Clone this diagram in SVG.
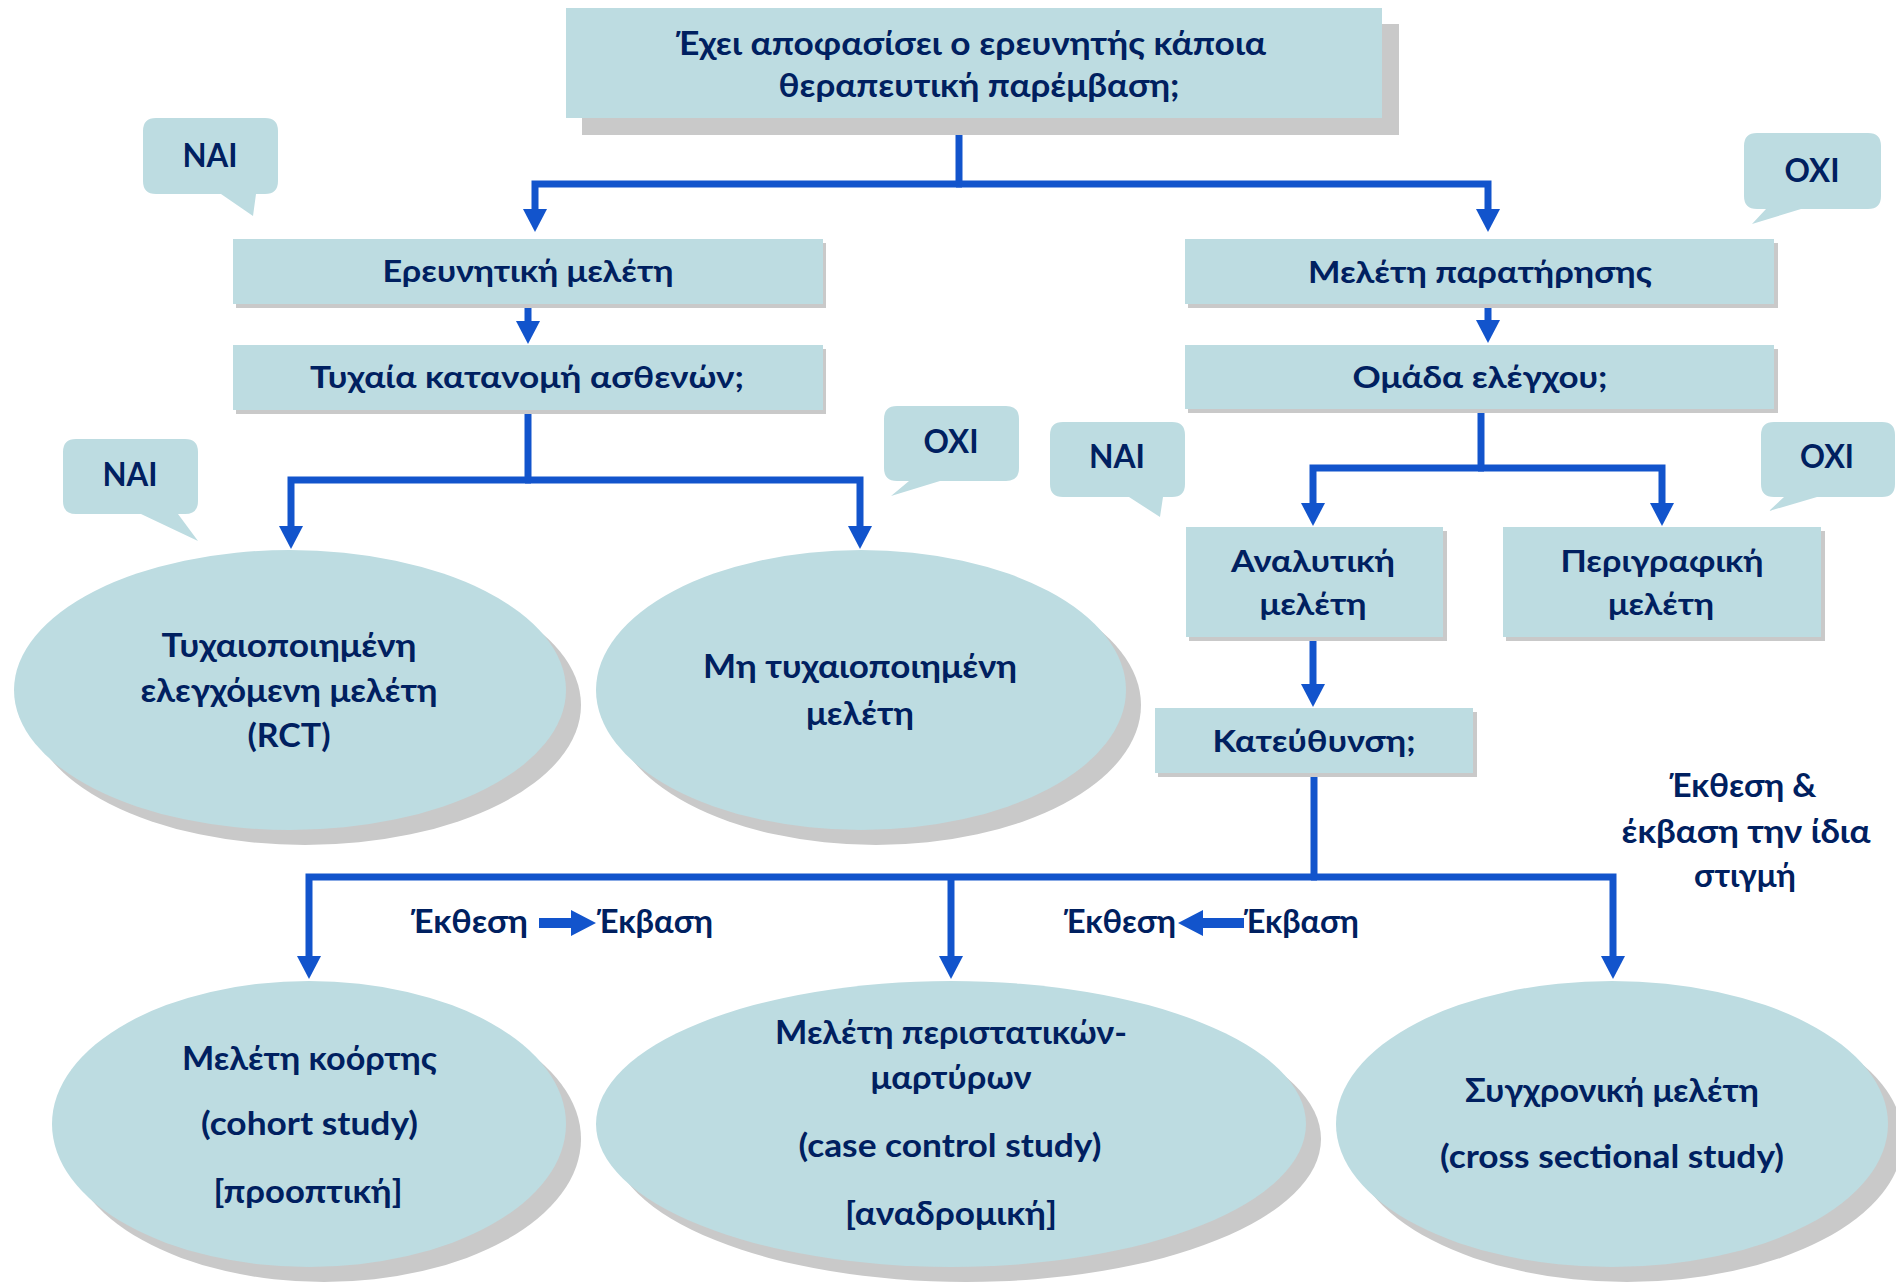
<svg xmlns="http://www.w3.org/2000/svg" width="1896" height="1283" viewBox="0 0 1896 1283">
  <style>
    .box { fill: #bddce1; }
    .shade { fill: #c9c9c9; }
    .bubble { fill: #bddce1; }
    .t { font-family: Lato, "Open Sans", "Noto Sans", sans-serif; font-weight: 700; fill: #002060; text-anchor: middle; }
    .s30 { font-size: 30px; }
    .s32 { font-size: 32px; }
    .wire { stroke: #1254cc; stroke-width: 7; fill: none; stroke-linejoin: miter; }
    .blk { fill: #1254cc; }
  </style>
  <defs>
    <marker id="head" markerUnits="userSpaceOnUse" markerWidth="26" markerHeight="26" refX="1" refY="12" orient="auto" overflow="visible">
      <path d="M0,0 L23,12 L0,24 Z" fill="#1254cc"/>
    </marker>
  </defs>

  <rect width="1896" height="1283" fill="#ffffff"/>

  <!-- connectors -->
  <g id="connectors">
    <path class="wire" d="M959,118 V184"/>
    <path class="wire" d="M962,184 H535 V210" marker-end="url(#head)"/>
    <path class="wire" d="M956,184 H1488 V210" marker-end="url(#head)"/>
    <path class="wire" d="M528,305 V322" marker-end="url(#head)"/>
    <path class="wire" d="M1488,305 V321" marker-end="url(#head)"/>
    <path class="wire" d="M528,410 V480"/>
    <path class="wire" d="M531,480 H291 V527" marker-end="url(#head)"/>
    <path class="wire" d="M525,480 H860 V527" marker-end="url(#head)"/>
    <path class="wire" d="M1481,409 V468"/>
    <path class="wire" d="M1484,468 H1313 V504" marker-end="url(#head)"/>
    <path class="wire" d="M1478,468 H1662 V504" marker-end="url(#head)"/>
    <path class="wire" d="M1313,638 V685" marker-end="url(#head)"/>
    <path class="wire" d="M1314,773 V877"/>
    <path class="wire" d="M1317,877 H309 V957" marker-end="url(#head)"/>
    <path class="wire" d="M1311,877 H1613 V957" marker-end="url(#head)"/>
    <path class="wire" d="M951,877 V957" marker-end="url(#head)"/>
  </g>

  <!-- question: therapeutic intervention -->
  <g id="n-intervention">
    <rect class="shade" x="582" y="24" width="817" height="111"/>
    <rect class="box" x="566" y="8" width="816" height="110"/>
    <text class="t s32" x="971" y="55" textLength="590" lengthAdjust="spacingAndGlyphs">Έχει αποφασίσει ο ερευνητής κάποια</text>
    <text class="t s32" x="979" y="97" textLength="401" lengthAdjust="spacingAndGlyphs">θεραπευτική παρέμβαση;</text>
  </g>

  <g id="b-yes-1">
    <path class="bubble" d="M156,118 H265 Q278,118 278,131 V181 Q278,194 265,194 H256 L253,216 L221,194 H156 Q143,194 143,181 V131 Q143,118 156,118 Z"/>
    <text class="t s32" x="210" y="167" textLength="55" lengthAdjust="spacingAndGlyphs">ΝΑΙ</text>
  </g>

  <g id="b-no-1">
    <path class="bubble" d="M1757,133 H1868 Q1881,133 1881,146 V196 Q1881,209 1868,209 H1801 L1752,224 L1766,209 H1757 Q1744,209 1744,196 V146 Q1744,133 1757,133 Z"/>
    <text class="t s32" x="1812" y="182" textLength="55" lengthAdjust="spacingAndGlyphs">ΟΧΙ</text>
  </g>

  <g id="n-experimental">
    <rect class="shade" x="236" y="243" width="590" height="65"/>
    <rect class="box" x="233" y="239" width="590" height="65"/>
    <text class="t s30" x="528" y="282" textLength="291" lengthAdjust="spacingAndGlyphs">Ερευνητική μελέτη</text>
  </g>

  <g id="n-randomised-q">
    <rect class="shade" x="236" y="349" width="590" height="65"/>
    <rect class="box" x="233" y="345" width="590" height="65"/>
    <text class="t s30" x="527" y="388" textLength="434" lengthAdjust="spacingAndGlyphs">Τυχαία κατανομή ασθενών;</text>
  </g>

  <g id="n-observational">
    <rect class="shade" x="1188" y="243" width="590" height="65"/>
    <rect class="box" x="1185" y="239" width="589" height="65"/>
    <text class="t s30" x="1480" y="283" textLength="344" lengthAdjust="spacingAndGlyphs">Μελέτη παρατήρησης</text>
  </g>

  <g id="n-control-q">
    <rect class="shade" x="1188" y="349" width="590" height="64"/>
    <rect class="box" x="1185" y="345" width="589" height="64"/>
    <text class="t s30" x="1480" y="388" textLength="255" lengthAdjust="spacingAndGlyphs">Ομάδα ελέγχου;</text>
  </g>

  <g id="b-yes-2">
    <path class="bubble" d="M76,439 H185 Q198,439 198,452 V501 Q198,514 185,514 H178 L198,541 L141,514 H76 Q63,514 63,501 V452 Q63,439 76,439 Z"/>
    <text class="t s32" x="130" y="486" textLength="55" lengthAdjust="spacingAndGlyphs">ΝΑΙ</text>
  </g>

  <g id="b-no-2">
    <path class="bubble" d="M897,406 H1006 Q1019,406 1019,419 V468 Q1019,481 1006,481 H940 L891,496 L909,481 H897 Q884,481 884,468 V419 Q884,406 897,406 Z"/>
    <text class="t s32" x="951" y="453" textLength="55" lengthAdjust="spacingAndGlyphs">ΟΧΙ</text>
  </g>

  <g id="b-yes-3">
    <path class="bubble" d="M1063,422 H1172 Q1185,422 1185,435 V484 Q1185,497 1172,497 H1163 L1160,517 L1129,497 H1063 Q1050,497 1050,484 V435 Q1050,422 1063,422 Z"/>
    <text class="t s32" x="1117" y="468" textLength="56" lengthAdjust="spacingAndGlyphs">ΝΑΙ</text>
  </g>

  <g id="b-no-3">
    <path class="bubble" d="M1774,422 H1882 Q1895,422 1895,435 V484 Q1895,497 1882,497 H1817 L1769,511 L1784,497 H1774 Q1761,497 1761,484 V435 Q1761,422 1774,422 Z"/>
    <text class="t s32" x="1827" y="468" textLength="54" lengthAdjust="spacingAndGlyphs">ΟΧΙ</text>
  </g>

  <g id="n-rct">
    <ellipse class="shade" cx="305" cy="705" rx="276" ry="140"/>
    <ellipse class="box" cx="290" cy="690" rx="276" ry="140"/>
    <text class="t s32" x="289" y="657" textLength="255" lengthAdjust="spacingAndGlyphs">Τυχαιοποιημένη</text>
    <text class="t s32" x="289" y="702" textLength="297" lengthAdjust="spacingAndGlyphs">ελεγχόμενη μελέτη</text>
    <text class="t s32" x="289" y="747" textLength="83" lengthAdjust="spacingAndGlyphs">(RCT)</text>
  </g>

  <g id="n-nonrandomised">
    <ellipse class="shade" cx="876" cy="705" rx="265" ry="140"/>
    <ellipse class="box" cx="861" cy="690" rx="265" ry="140"/>
    <text class="t s32" x="860" y="678" textLength="314" lengthAdjust="spacingAndGlyphs">Μη τυχαιοποιημένη</text>
    <text class="t s32" x="860" y="725" textLength="108" lengthAdjust="spacingAndGlyphs">μελέτη</text>
  </g>

  <g id="n-analytic">
    <rect class="shade" x="1189" y="531" width="258" height="110"/>
    <rect class="box" x="1186" y="527" width="257" height="110"/>
    <text class="t s30" x="1313" y="572" textLength="164" lengthAdjust="spacingAndGlyphs">Αναλυτική</text>
    <text class="t s30" x="1313" y="615" textLength="107" lengthAdjust="spacingAndGlyphs">μελέτη</text>
  </g>

  <g id="n-descriptive">
    <rect class="shade" x="1506" y="531" width="319" height="110"/>
    <rect class="box" x="1503" y="527" width="318" height="110"/>
    <text class="t s30" x="1662" y="572" textLength="203" lengthAdjust="spacingAndGlyphs">Περιγραφική</text>
    <text class="t s30" x="1661" y="615" textLength="106" lengthAdjust="spacingAndGlyphs">μελέτη</text>
  </g>

  <g id="n-direction-q">
    <rect class="shade" x="1158" y="712" width="319" height="65"/>
    <rect class="box" x="1155" y="708" width="318" height="65"/>
    <text class="t s30" x="1314" y="752" textLength="203" lengthAdjust="spacingAndGlyphs">Κατεύθυνση;</text>
  </g>

  <g id="l-same-time">
    <text class="t s32" x="1743" y="797" textLength="147" lengthAdjust="spacingAndGlyphs">Έκθεση &amp;</text>
    <text class="t s32" x="1746" y="843" textLength="249" lengthAdjust="spacingAndGlyphs">έκβαση την ίδια</text>
    <text class="t s32" x="1745" y="887" textLength="102" lengthAdjust="spacingAndGlyphs">στιγμή</text>
  </g>

  <g id="l-forward">
    <text class="t s32" x="469.5" y="933" textLength="117" lengthAdjust="spacingAndGlyphs">Έκθεση</text>
    <path class="blk" d="M539,918 H571 V910 L596,923 L571,936 V928 H539 Z"/>
    <text class="t s32" x="655" y="933" textLength="116" lengthAdjust="spacingAndGlyphs">Έκβαση</text>
  </g>

  <g id="l-backward">
    <text class="t s32" x="1120" y="933" textLength="112" lengthAdjust="spacingAndGlyphs">Έκθεση</text>
    <path class="blk" d="M1244,918 H1203 V910 L1178,923 L1203,936 V928 H1244 Z"/>
    <text class="t s32" x="1301.5" y="933" textLength="115" lengthAdjust="spacingAndGlyphs">Έκβαση</text>
  </g>

  <g id="n-cohort">
    <ellipse class="shade" cx="324" cy="1139" rx="257" ry="143"/>
    <ellipse class="box" cx="309" cy="1124" rx="257" ry="143"/>
    <text class="t s32" x="309.5" y="1070" textLength="255" lengthAdjust="spacingAndGlyphs">Μελέτη κοόρτης</text>
    <text class="t s32" x="309.5" y="1135" textLength="217" lengthAdjust="spacingAndGlyphs">(cohort study)</text>
    <text class="t s32" x="308" y="1203" textLength="189" lengthAdjust="spacingAndGlyphs">[προοπτική]</text>
  </g>

  <g id="n-case-control">
    <ellipse class="shade" cx="966" cy="1139" rx="355" ry="143"/>
    <ellipse class="box" cx="951" cy="1124" rx="355" ry="143"/>
    <text class="t s32" x="951" y="1044" textLength="352" lengthAdjust="spacingAndGlyphs">Μελέτη περιστατικών-</text>
    <text class="t s32" x="951" y="1089" textLength="161" lengthAdjust="spacingAndGlyphs">μαρτύρων</text>
    <text class="t s32" x="950" y="1157" textLength="303" lengthAdjust="spacingAndGlyphs">(case control study)</text>
    <text class="t s32" x="951" y="1225" textLength="212" lengthAdjust="spacingAndGlyphs">[αναδρομική]</text>
  </g>

  <g id="n-cross-sectional">
    <ellipse class="shade" cx="1627" cy="1139" rx="276" ry="143"/>
    <ellipse class="box" cx="1612" cy="1124" rx="276" ry="143"/>
    <text class="t s32" x="1612" y="1102" textLength="294" lengthAdjust="spacingAndGlyphs">Συγχρονική μελέτη</text>
    <text class="t s32" x="1612" y="1168" textLength="344" lengthAdjust="spacingAndGlyphs">(cross sectional study)</text>
  </g>
</svg>
